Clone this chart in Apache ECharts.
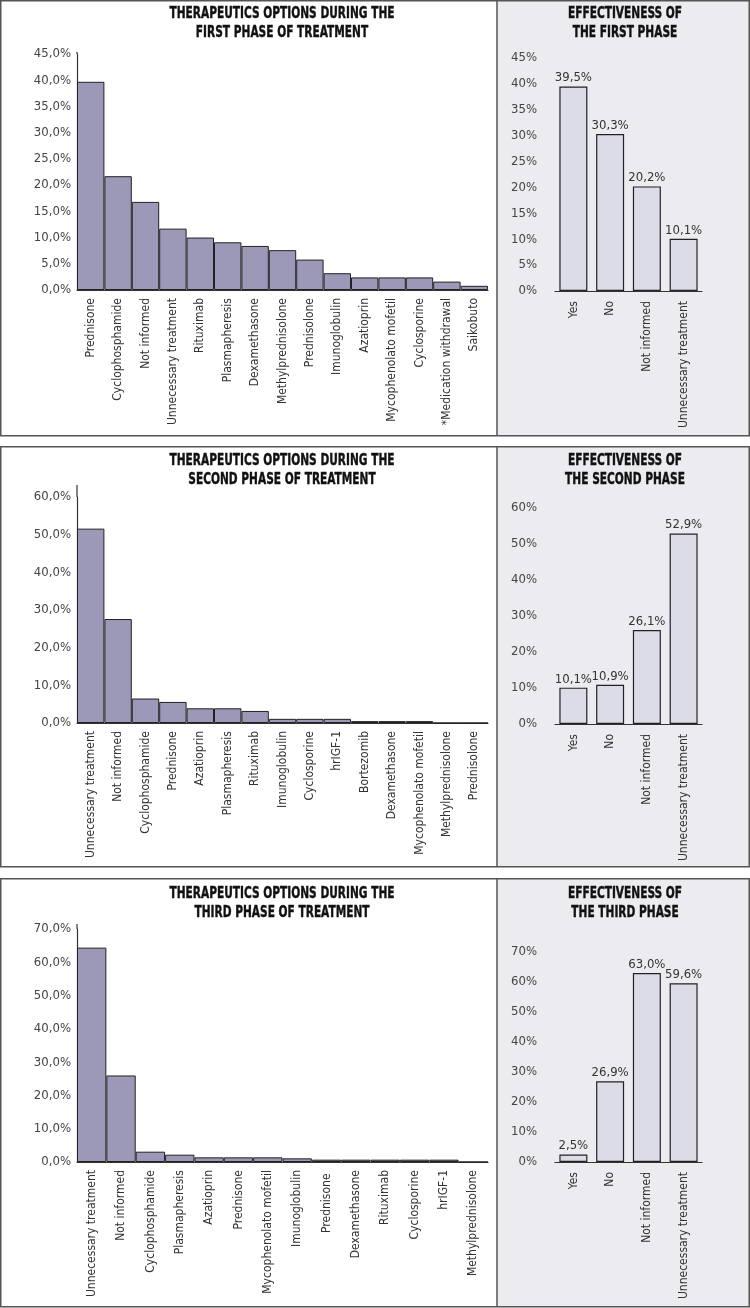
<!DOCTYPE html>
<html>
<head>
<meta charset="utf-8">
<script src="https://cdn.jsdelivr.net/npm/echarts@6/dist/echarts.min.js"></script>
<style>
html,body{margin:0;padding:0;background:#fff;}
#c{width:750px;height:1308px;}
</style>
</head>
<body>
<div id="c"></div>
<script>
// ---- Data ----
const cats1 = ['Prednisone','Cyclophosphamide','Not informed','Unnecessary treatment','Rituximab','Plasmapheresis','Dexamethasone','Methylprednisolone','Prednisolone','Imunoglobulin','Azatioprin','Mycophenolato mofetil','Cyclosporine','*Medication withdrawal','Saikobuto'];
const vals1 = [39.7,21.7,16.8,11.7,10.0,9.1,8.4,7.6,5.8,3.2,2.4,2.4,2.4,1.6,0.8];

const cats2 = ['Unnecessary treatment','Not informed','Cyclophosphamide','Prednisone','Azatioprin','Plasmapheresis','Rituximab','Imunoglobulin','Cyclosporine','hrIGF-1','Bortezomib','Dexamethasone','Mycophenolato mofetil','Methylprednisolone','Prednisolone'];
const vals2 = [51.6,27.6,6.5,5.6,3.9,3.9,3.2,1.1,1.1,1.1,0.5,0.5,0.5,0,0];

const cats3 = ['Unnecessary treatment','Not informed','Cyclophosphamide','Plasmapheresis','Azatioprin','Prednisone','Mycophenolato mofetil','Imunoglobulin','Prednisone ','Dexamethasone','Rituximab','Cyclosporine','hrIGF-1','Methylprednisolone'];
const vals3 = [64.4,26.0,3.1,2.2,1.4,1.4,1.4,1.1,0.7,0.7,0.7,0.7,0.7,0];

const effCats = ['Yes','No','Not informed','Unnecessary treatment'];
const eff1 = [39.5,30.3,20.2,10.1];
const eff2 = [10.1,10.9,26.1,52.9];
const eff3 = [2.5,26.9,63.0,59.6];

const titlesLeft = ['THERAPEUTICS OPTIONS DURING THE\nFIRST PHASE OF TREATMENT','THERAPEUTICS OPTIONS DURING THE\nSECOND PHASE OF TREATMENT','THERAPEUTICS OPTIONS DURING THE\nTHIRD PHASE OF TREATMENT'];
const titlesRight = ['EFFECTIVENESS OF\nTHE FIRST PHASE','EFFECTIVENESS OF\nTHE SECOND PHASE','EFFECTIVENESS OF\nTHE THIRD PHASE'];

// ---- Layout ----
const FONT = '"DejaVu Sans Condensed","Liberation Sans",sans-serif';
const panels = [
  {top:0, bottom:435, lt:6, lg:{top:54,h:236,max:45,int:5,axTop:52}, rg:{top:58,h:233,max:45,int:5}},
  {top:446, bottom:866, lt:453, lg:{top:497,h:226,max:60,int:10,axTop:485}, rg:{top:508,h:216,max:60,int:10}},
  {top:878, bottom:1306, lt:886, lg:{top:929,h:233,max:70,int:10,axTop:924}, rg:{top:952,h:210,max:70,int:10}}
];
const leftCats = [cats1,cats2,cats3];
const leftVals = [vals1,vals2,vals3];
const rightVals = [eff1,eff2,eff3];

const fmt1 = v => v.toFixed(1).replace('.',',') + '%';

const grids=[], xAxes=[], yAxes=[], series=[], graphics=[];
panels.forEach((p,i)=>{
  // backgrounds & frames
  graphics.push({type:'rect', z:-10, silent:true, shape:{x:497,y:p.top+0.5,width:252.5,height:p.bottom-p.top}, style:{fill:'#ebebf0'}});
  graphics.push({type:'rect', z:100, silent:true, shape:{x:0.75,y:p.top+0.75,width:748.5,height:p.bottom-p.top}, style:{fill:null, stroke:'#555', lineWidth:1.5}});
  graphics.push({type:'line', z:100, silent:true, shape:{x1:497,y1:p.top+0.75,x2:497,y2:p.bottom+0.75}, style:{stroke:'#555', lineWidth:1.5}});
  // small extension of left value axis line above its top tick
  graphics.push({type:'line', z:100, silent:true, shape:{x1:77,y1:p.lg.axTop,x2:77,y2:p.lg.top}, style:{stroke:'#333', lineWidth:1.2}});

  // titles (text, horizontally condensed)
  graphics.push({type:'text', z:100, silent:true, x:282, y:p.lt-1, scaleX:0.76,
    style:{text:titlesLeft[i], textAlign:'center', textVerticalAlign:'top', fontFamily:FONT, fontWeight:'bold', fontSize:15.5, lineHeight:18.5, fill:'#111', stroke:'#111', lineWidth:0.4}});
  graphics.push({type:'text', z:100, silent:true, x:625, y:p.lt-1, scaleX:0.76,
    style:{text:titlesRight[i], textAlign:'center', textVerticalAlign:'top', fontFamily:FONT, fontWeight:'bold', fontSize:15.5, lineHeight:18.5, fill:'#111', stroke:'#111', lineWidth:0.4}});

  const gl = grids.length;
  grids.push({left:77, width:411, top:p.lg.top, height:p.lg.h});
  grids.push({left:555, width:147, top:p.rg.top, height:p.rg.h});

  xAxes.push({type:'category', gridIndex:gl, data:leftCats[i],
    axisLine:{show:true, lineStyle:{color:'#333', width:1.2}}, axisTick:{show:false},
    axisLabel:{interval:0, rotate:90, margin:8, fontFamily:FONT, fontSize:12, color:'#333'}});
  xAxes.push({type:'category', gridIndex:gl+1, data:effCats,
    axisLine:{show:true, lineStyle:{color:'#333', width:1.2}}, axisTick:{show:false},
    axisLabel:{interval:0, rotate:90, margin:10, fontFamily:FONT, fontSize:12, color:'#333'}});

  yAxes.push({type:'value', gridIndex:gl, min:0, max:p.lg.max, interval:p.lg.int,
    axisLine:{show:true, lineStyle:{color:'#333', width:1.2}}, axisTick:{show:false}, splitLine:{show:false},
    axisLabel:{margin:6, fontFamily:FONT, fontSize:13, color:'#444', formatter:v=>v.toFixed(1).replace('.',',')+'%'}});
  yAxes.push({type:'value', gridIndex:gl+1, min:0, max:p.rg.max, interval:p.rg.int,
    axisLine:{show:false}, axisTick:{show:false}, splitLine:{show:false},
    axisLabel:{margin:18, fontFamily:FONT, fontSize:13, color:'#444', formatter:v=>v+'%'}});

  series.push({type:'bar', xAxisIndex:gl, yAxisIndex:gl, data:leftVals[i], barCategoryGap:'0%',
    itemStyle:{color:'#9b99b7', borderColor:'#222', borderWidth:1}, silent:true});
  series.push({type:'bar', xAxisIndex:gl+1, yAxisIndex:gl+1, data:rightVals[i], barWidth:28,
    itemStyle:{color:'#dcdce8', borderColor:'#222', borderWidth:1.2}, silent:true,
    label:{show:true, position:'top', distance:2, fontFamily:FONT, fontSize:13, color:'#333', formatter:pp=>fmt1(pp.value)}});
});

const chart = echarts.init(document.getElementById('c'), null, {renderer:'canvas'});
chart.setOption({
  animation:false,
  backgroundColor:'#fff',
  grid:grids, xAxis:xAxes, yAxis:yAxes, series:series, graphic:graphics
});
</script>
</body>
</html>
